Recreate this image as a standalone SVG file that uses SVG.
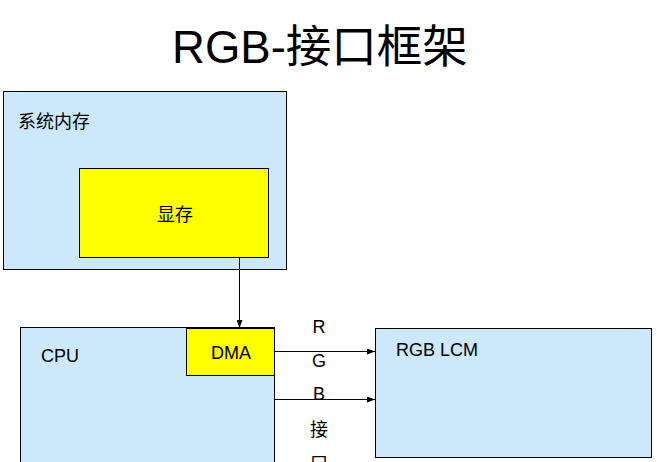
<svg xmlns="http://www.w3.org/2000/svg" width="657" height="462" viewBox="0 0 657 462">
<style>
.box{fill:#CCE8FA;stroke:#000;stroke-width:1}
.yel{fill:#FFFF00;stroke:#000;stroke-width:1}
.t{font-family:"Liberation Sans","Noto Sans CJK SC",sans-serif;fill:#000;font-size:18px}
.c{stroke:#000;stroke-width:1;fill:none}
</style>
<defs>
<marker id="ah" markerWidth="8" markerHeight="6" refX="8" refY="3" orient="auto" markerUnits="userSpaceOnUse">
<path d="M0,0 L8,3 L0,6 Z" fill="#000"/>
</marker>
</defs>
<rect width="657" height="462" fill="#fff"/>
<text class="t" x="320" y="63" style="font-size:45.5px" text-anchor="middle">RGB-接口框架</text>
<g id="sysmem">
<rect class="box" x="3.5" y="91.5" width="283" height="178"/>
<text class="t" x="18" y="128">系统内存</text>
</g>
<g id="vram">
<rect class="yel" x="79.5" y="168.5" width="189" height="89"/>
<text class="t" x="175" y="221" text-anchor="middle">显存</text>
</g>
<g id="cpu">
<rect class="box" x="20.5" y="327.5" width="254" height="140"/>
<text class="t" x="41" y="362">CPU</text>
</g>
<g id="dma">
<rect class="yel" x="186.5" y="328.5" width="88" height="47"/>
<text class="t" x="231" y="359" text-anchor="middle">DMA</text>
</g>
<g id="lcm">
<rect class="box" x="375.5" y="328.5" width="276" height="129"/>
<text class="t" x="396" y="356">RGB LCM</text>
</g>
<g id="connectors">
<line class="c" x1="239.5" y1="257.5" x2="239.5" y2="328" marker-end="url(#ah)"/>
<line class="c" x1="275" y1="351.5" x2="375" y2="351.5" marker-end="url(#ah)"/>
<line class="c" x1="275" y1="399.5" x2="375" y2="399.5" marker-end="url(#ah)"/>
</g>
<g id="label">
<text class="t" x="319" y="333" text-anchor="middle">R</text>
<text class="t" x="319" y="367" text-anchor="middle">G</text>
<text class="t" x="319" y="400" text-anchor="middle">B</text>
<text class="t" x="319" y="436" text-anchor="middle">接</text>
<text class="t" x="319" y="470" text-anchor="middle">口</text>
</g>
</svg>
